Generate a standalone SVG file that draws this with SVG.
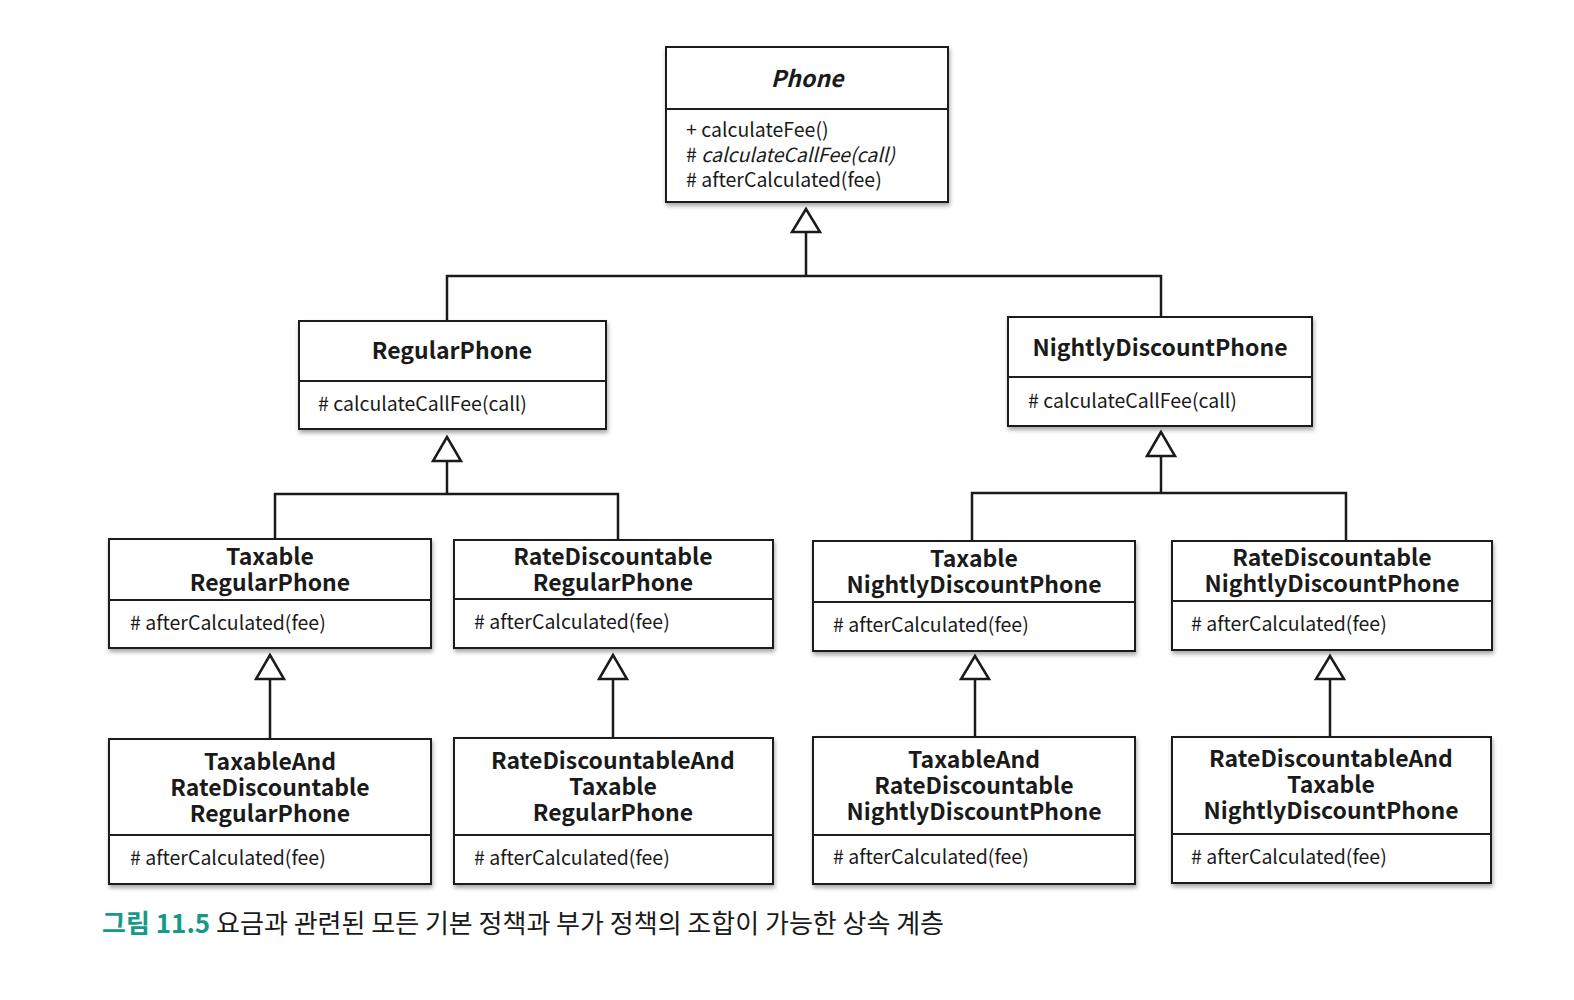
<svg xmlns="http://www.w3.org/2000/svg" width="1574" height="1000" viewBox="0 0 1574 1000">
<defs>
<style>
.box{fill:#fff;stroke:#1e1e1e;stroke-width:2}
.div{stroke:#1e1e1e;stroke-width:2}
.t{font-family:"Noto Sans CJK KR","Noto Sans",sans-serif;font-weight:700;font-size:23px;fill:#1a1a1a;text-anchor:middle}
.m{font-family:"Noto Sans CJK KR","Noto Sans",sans-serif;font-size:19.5px;fill:#1a1a1a}
.ln{fill:none;stroke:#1a1a1a;stroke-width:2.5}
.tri{fill:#fff;stroke:#1a1a1a;stroke-width:2.5;stroke-linejoin:miter}
.cap{font-family:"Noto Sans CJK KR",sans-serif;font-size:26px;fill:#1a1a1a}
</style>
<filter id="sh" x="-5%" y="-10%" width="110%" height="130%">
<feDropShadow dx="1" dy="3" stdDeviation="2" flood-color="#000" flood-opacity="0.35"/>
</filter>
</defs>
<rect width="1574" height="1000" fill="#fff"/>

<g id="connectors">
<polyline class="ln" points="806,232 806,276"/>
<polyline class="ln" points="447,321 447,276 1161,276 1161,317"/>
<polygon class="tri" points="806,209 792,232 820,232"/>

<polyline class="ln" points="447,461 447,494"/>
<polyline class="ln" points="275,540 275,494 618,494 618,540"/>
<polygon class="tri" points="447,437 433,461 461,461"/>

<polyline class="ln" points="1161,456 1161,493"/>
<polyline class="ln" points="972,541 972,493 1346,493 1346,541"/>
<polygon class="tri" points="1161,432 1147,456 1175,456"/>

<line class="ln" x1="270" y1="679" x2="270" y2="738"/>
<polygon class="tri" points="270,655 256,679 284,679"/>
<line class="ln" x1="613" y1="679" x2="613" y2="738"/>
<polygon class="tri" points="613,655 599,679 627,679"/>
<line class="ln" x1="975" y1="679" x2="975" y2="738"/>
<polygon class="tri" points="975,656 961,679 989,679"/>
<line class="ln" x1="1330" y1="679" x2="1330" y2="737"/>
<polygon class="tri" points="1330,656 1316,679 1344,679"/>
</g>

<g id="phone">
<rect class="box" filter="url(#sh)" x="666" y="47" width="282" height="155"/>
<line class="div" x1="666" y1="109" x2="948" y2="109"/>
<text class="t" x="807" y="87" font-style="italic">Phone</text>
<text class="m" x="686" y="137">+ calculateFee()<tspan x="686" dy="25"># <tspan font-style="italic">calculateCallFee(call)</tspan></tspan><tspan x="686" dy="25"># afterCalculated(fee)</tspan></text>
</g>

<g id="regularPhone">
<rect class="box" filter="url(#sh)" x="299" y="321" width="307" height="108"/>
<line class="div" x1="299" y1="381" x2="606" y2="381"/>
<text class="t" x="452" y="359">RegularPhone</text>
<text class="m" x="318" y="411"># calculateCallFee(call)</text>
</g>

<g id="nightlyDiscountPhone">
<rect class="box" filter="url(#sh)" x="1008" y="317" width="304" height="109"/>
<line class="div" x1="1008" y1="377" x2="1312" y2="377"/>
<text class="t" x="1160" y="356">NightlyDiscountPhone</text>
<text class="m" x="1028" y="408"># calculateCallFee(call)</text>
</g>

<g id="taxableRegularPhone">
<rect class="box" filter="url(#sh)" x="109" y="539" width="322" height="109"/>
<line class="div" x1="109" y1="600" x2="431" y2="600"/>
<text class="t" x="270" y="565">Taxable<tspan x="270" dy="26">RegularPhone</tspan></text>
<text class="m" x="130" y="630"># afterCalculated(fee)</text>
</g>

<g id="rateDiscountableRegularPhone">
<rect class="box" filter="url(#sh)" x="454" y="540" width="319" height="108"/>
<line class="div" x1="454" y1="599" x2="773" y2="599"/>
<text class="t" x="613" y="565">RateDiscountable<tspan x="613" dy="26">RegularPhone</tspan></text>
<text class="m" x="474" y="629"># afterCalculated(fee)</text>
</g>

<g id="taxableNightlyDiscountPhone">
<rect class="box" filter="url(#sh)" x="813" y="541" width="322" height="110"/>
<line class="div" x1="813" y1="602" x2="1135" y2="602"/>
<text class="t" x="974" y="567">Taxable<tspan x="974" dy="26">NightlyDiscountPhone</tspan></text>
<text class="m" x="833" y="632"># afterCalculated(fee)</text>
</g>

<g id="rateDiscountableNightlyDiscountPhone">
<rect class="box" filter="url(#sh)" x="1172" y="541" width="320" height="109"/>
<line class="div" x1="1172" y1="601" x2="1492" y2="601"/>
<text class="t" x="1332" y="566">RateDiscountable<tspan x="1332" dy="26">NightlyDiscountPhone</tspan></text>
<text class="m" x="1191" y="631"># afterCalculated(fee)</text>
</g>

<g id="taxableAndRateDiscountableRegularPhone">
<rect class="box" filter="url(#sh)" x="109" y="739" width="322" height="145"/>
<line class="div" x1="109" y1="835" x2="431" y2="835"/>
<text class="t" x="270" y="770">TaxableAnd<tspan x="270" dy="26">RateDiscountable</tspan><tspan x="270" dy="26">RegularPhone</tspan></text>
<text class="m" x="130" y="865"># afterCalculated(fee)</text>
</g>

<g id="rateDiscountableAndTaxableRegularPhone">
<rect class="box" filter="url(#sh)" x="454" y="738" width="319" height="146"/>
<line class="div" x1="454" y1="835" x2="773" y2="835"/>
<text class="t" x="613" y="769">RateDiscountableAnd<tspan x="613" dy="26">Taxable</tspan><tspan x="613" dy="26">RegularPhone</tspan></text>
<text class="m" x="474" y="865"># afterCalculated(fee)</text>
</g>

<g id="taxableAndRateDiscountableNightlyDiscountPhone">
<rect class="box" filter="url(#sh)" x="813" y="737" width="322" height="147"/>
<line class="div" x1="813" y1="835" x2="1135" y2="835"/>
<text class="t" x="974" y="768">TaxableAnd<tspan x="974" dy="26">RateDiscountable</tspan><tspan x="974" dy="26">NightlyDiscountPhone</tspan></text>
<text class="m" x="833" y="864"># afterCalculated(fee)</text>
</g>

<g id="rateDiscountableAndTaxableNightlyDiscountPhone">
<rect class="box" filter="url(#sh)" x="1172" y="737" width="319" height="146"/>
<line class="div" x1="1172" y1="834" x2="1491" y2="834"/>
<text class="t" x="1331" y="767">RateDiscountableAnd<tspan x="1331" dy="26">Taxable</tspan><tspan x="1331" dy="26">NightlyDiscountPhone</tspan></text>
<text class="m" x="1191" y="864"># afterCalculated(fee)</text>
</g>

<g id="caption">
<text class="cap" x="102" y="933"><tspan fill="#15998a" font-weight="700">그림 11.5</tspan> 요금과 관련된 모든 기본 정책과 부가 정책의 조합이 가능한 상속 계층</text>
</g>
</svg>
